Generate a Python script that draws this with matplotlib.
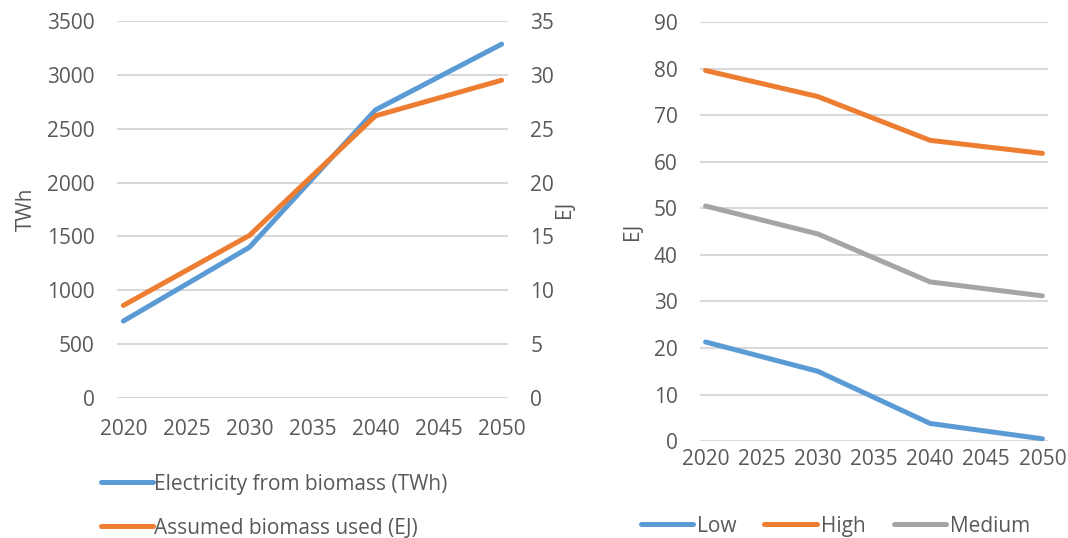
import matplotlib.pyplot as plt
from matplotlib.lines import Line2D

# years with values
years = [2020, 2030, 2040, 2050]
xticks = [2020, 2025, 2030, 2035, 2040, 2045, 2050]

# left chart: electricity and biomass use
electricity_twh = [715, 1400, 2675, 3285]
biomass_ej = [8.6, 15.1, 26.2, 29.5]

# right chart: scenarios
low = [21.3, 15.0, 3.8, 0.5]
high = [79.6, 74.0, 64.6, 61.8]
medium = [50.5, 44.5, 34.2, 31.2]

BLUE = '#5B9BD5'
ORANGE = '#ED7D31'
GREY = '#A5A5A5'
TEXT = '#595959'
GRID = '#D9D9D9'
FS = 15

plt.rcParams['font.family'] = ['Open Sans', 'DejaVu Sans']
plt.rcParams['font.size'] = FS

fig = plt.figure(figsize=(10.68, 5.38), dpi=100)


def style(ax):
    for s in ax.spines.values():
        s.set_visible(False)
    ax.tick_params(length=0, colors=TEXT, labelsize=FS)
    ax.set_xticks(xticks)
    ax.set_xlim(2019.5, 2050.5)


# -------- left chart --------
ax1 = fig.add_axes([0.1096, 0.260, 0.366, 0.701])
style(ax1)
ax1.set_ylim(0, 3500)
ax1.set_yticks(range(0, 3501, 500))
ax1.yaxis.grid(True, color=GRID, lw=1.5)
ax1.set_axisbelow(True)
ax1.tick_params(axis='x', pad=15)
ax1.tick_params(axis='y', pad=16)
ax1.plot(years, electricity_twh, color=BLUE, lw=3.6, solid_capstyle='round')
ax1.set_ylabel('TWh', color=TEXT, fontsize=FS, labelpad=7)

ax2 = ax1.twinx()
style(ax2)
ax2.set_ylim(0, 35)
ax2.set_yticks(range(0, 36, 5))
ax2.tick_params(axis='y', pad=16)
ax2.plot(years, biomass_ej, color=ORANGE, lw=3.6, solid_capstyle='round')
ax2.set_ylabel('EJ', color=TEXT, fontsize=FS, labelpad=0)

handles = [Line2D([], [], color=BLUE, lw=3.6, solid_capstyle='round'),
           Line2D([], [], color=ORANGE, lw=3.6, solid_capstyle='round')]
fig.legend(handles, ['Electricity from biomass (TWh)', 'Assumed biomass used (EJ)'],
           loc='upper left', bbox_to_anchor=(0.087, 0.135), frameon=False,
           handlelength=2.5, handletextpad=0.05, labelspacing=1.1,
           labelcolor=TEXT, fontsize=FS, borderaxespad=0)

# -------- right chart --------
ax3 = fig.add_axes([0.6554, 0.180, 0.3259, 0.779])
style(ax3)
ax3.set_ylim(0, 90)
ax3.set_yticks(range(0, 91, 10))
ax3.yaxis.grid(True, color=GRID, lw=1.5)
ax3.set_axisbelow(True)
ax3.tick_params(axis='x', pad=6)
ax3.tick_params(axis='y', pad=16)
ax3.plot(years, low, color=BLUE, lw=3.6, solid_capstyle='round', label='Low')
ax3.plot(years, high, color=ORANGE, lw=3.6, solid_capstyle='round', label='High')
ax3.plot(years, medium, color=GREY, lw=3.6, solid_capstyle='round', label='Medium')
ax3.set_ylabel('EJ', color=TEXT, fontsize=FS, labelpad=8)
fig.legend(*ax3.get_legend_handles_labels(), loc='center left',
           bbox_to_anchor=(0.592, 0.022), ncol=3, frameon=False,
           handlelength=2.5, handletextpad=0.2, columnspacing=1.35,
           labelcolor=TEXT, fontsize=FS, borderaxespad=0)

fig.savefig('out.png', dpi=100)
